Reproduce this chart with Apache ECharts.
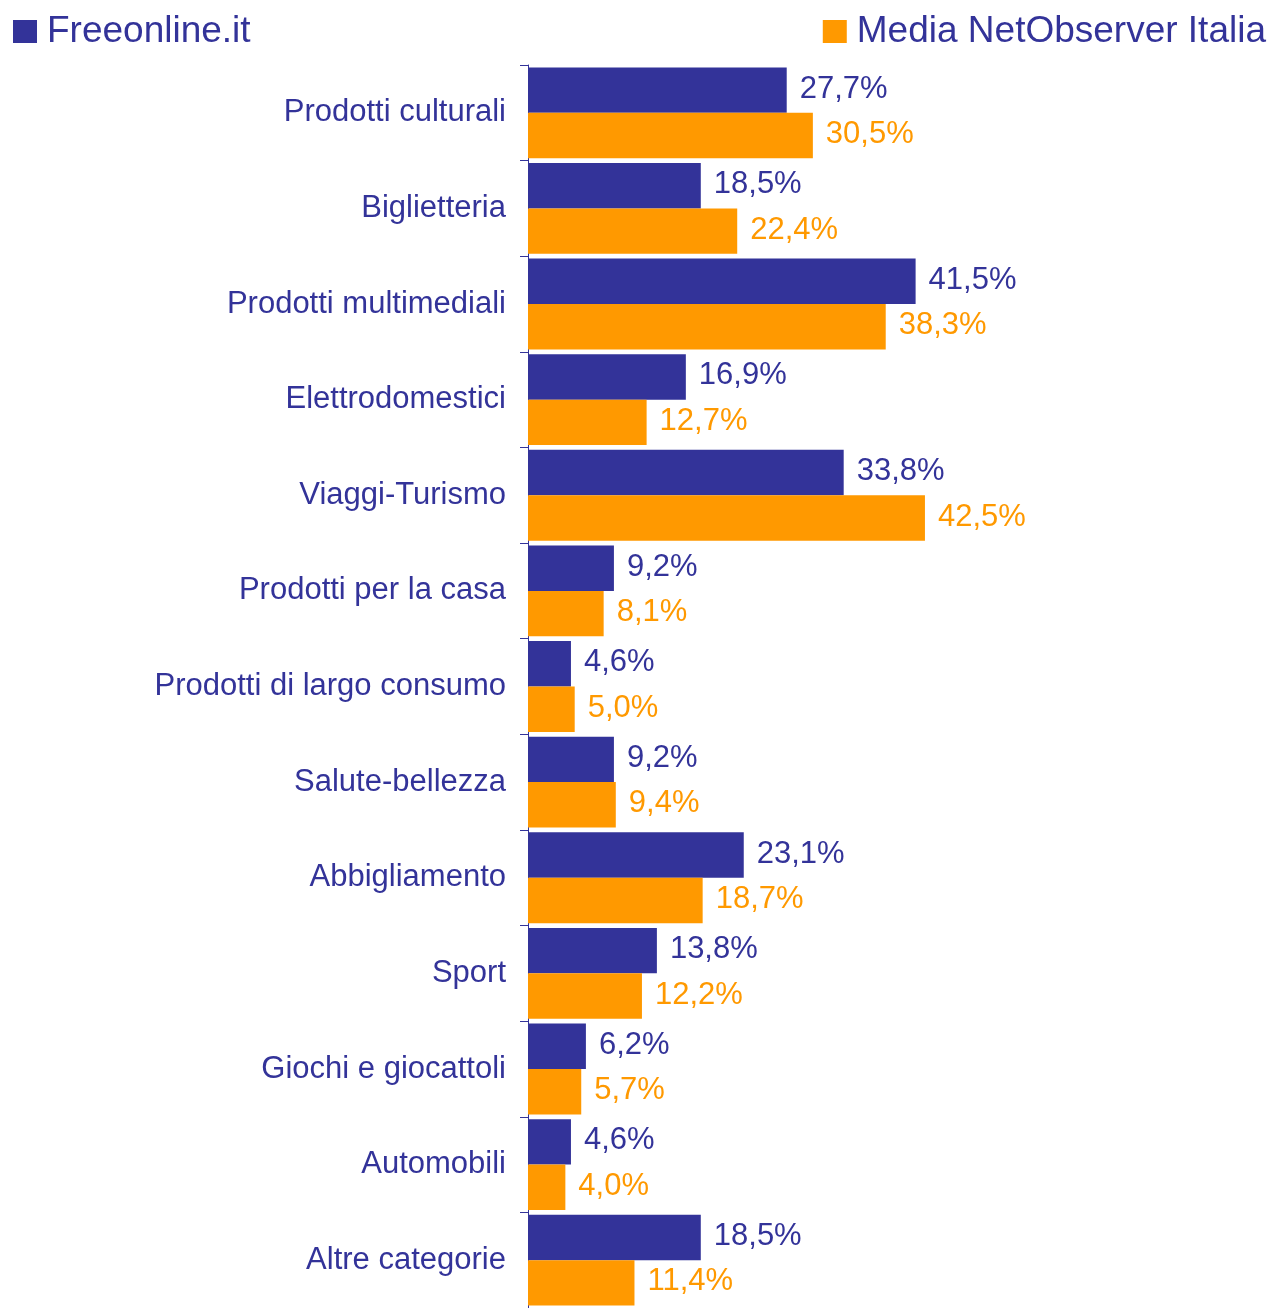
<!DOCTYPE html>
<html>
<head>
<meta charset="utf-8">
<title>Categorie di acquisto online</title>
<script src="https://cdn.jsdelivr.net/npm/echarts@6/dist/echarts.min.js"></script>
<style>
  html, body { margin: 0; padding: 0; background: #ffffff; }
  #chart { width: 1272px; height: 1308px; }
</style>
</head>
<body>
<div id="chart"></div>
<script>
// Product categories, top to bottom
const categories = [
  'Prodotti culturali', 'Biglietteria', 'Prodotti multimediali', 'Elettrodomestici',
  'Viaggi-Turismo', 'Prodotti per la casa', 'Prodotti di largo consumo', 'Salute-bellezza',
  'Abbigliamento', 'Sport', 'Giochi e giocattoli', 'Automobili', 'Altre categorie'
];
// Share of buyers per category (%)
const freeonline = [27.7, 18.5, 41.5, 16.9, 33.8, 9.2, 4.6, 9.2, 23.1, 13.8, 6.2, 4.6, 18.5];
const netObserver = [30.5, 22.4, 38.3, 12.7, 42.5, 8.1, 5.0, 9.4, 18.7, 12.2, 5.7, 4.0, 11.4];

const seriesNames = ['Freeonline.it', 'Media NetObserver Italia'];
const BLUE = '#333399';
const ORANGE = '#FF9900';
const FONT = '"Liberation Sans", Arial, sans-serif';

const pct = v => v.toFixed(1).replace('.', ',') + '%';

const chart = echarts.init(document.getElementById('chart'), null, { renderer: 'canvas' });

const legendBase = {
  orient: 'horizontal',
  top: 13,
  padding: 0,
  icon: 'rect',
  itemWidth: 24,
  itemHeight: 23,
  selectedMode: false,
  textStyle: { fontFamily: FONT, fontSize: 37, color: BLUE, padding: [0, 0, 18, 5] }
};

chart.setOption({
  animation: false,
  backgroundColor: '#ffffff',
  legend: [
    Object.assign({}, legendBase, { left: 13, data: [seriesNames[0]] }),
    Object.assign({}, legendBase, { right: 6, data: [seriesNames[1]] })
  ],
  grid: { left: 528, top: 65, width: 467, height: 1246, containLabel: false },
  xAxis: {
    type: 'value',
    min: 0,
    max: 50,
    show: false,
    splitLine: { show: false }
  },
  yAxis: {
    type: 'category',
    data: categories,
    inverse: true,
    axisLine: { show: true, lineStyle: { color: BLUE, width: 1 } },
    axisTick: { show: true, length: 8, lineStyle: { color: BLUE, width: 1 } },
    axisLabel: {
      margin: 22,
      fontFamily: FONT,
      fontSize: 31,
      color: BLUE,
      padding: [0, 0, 14, 0]
    },
    splitLine: { show: false }
  },
  series: [
    {
      name: seriesNames[0],
      type: 'bar',
      data: freeonline,
      barGap: '0%',
      barCategoryGap: '5%',
      itemStyle: { color: BLUE },
      label: {
        show: true, position: 'right', distance: 13, offset: [0, -1],
        fontFamily: FONT, fontSize: 31, color: BLUE,
        formatter: p => pct(p.value)
      }
    },
    {
      name: seriesNames[1],
      type: 'bar',
      data: netObserver,
      barGap: '0%',
      barCategoryGap: '5%',
      itemStyle: { color: ORANGE },
      label: {
        show: true, position: 'right', distance: 13, offset: [0, -1],
        fontFamily: FONT, fontSize: 31, color: ORANGE,
        formatter: p => pct(p.value)
      }
    }
  ]
});
</script>
</body>
</html>
